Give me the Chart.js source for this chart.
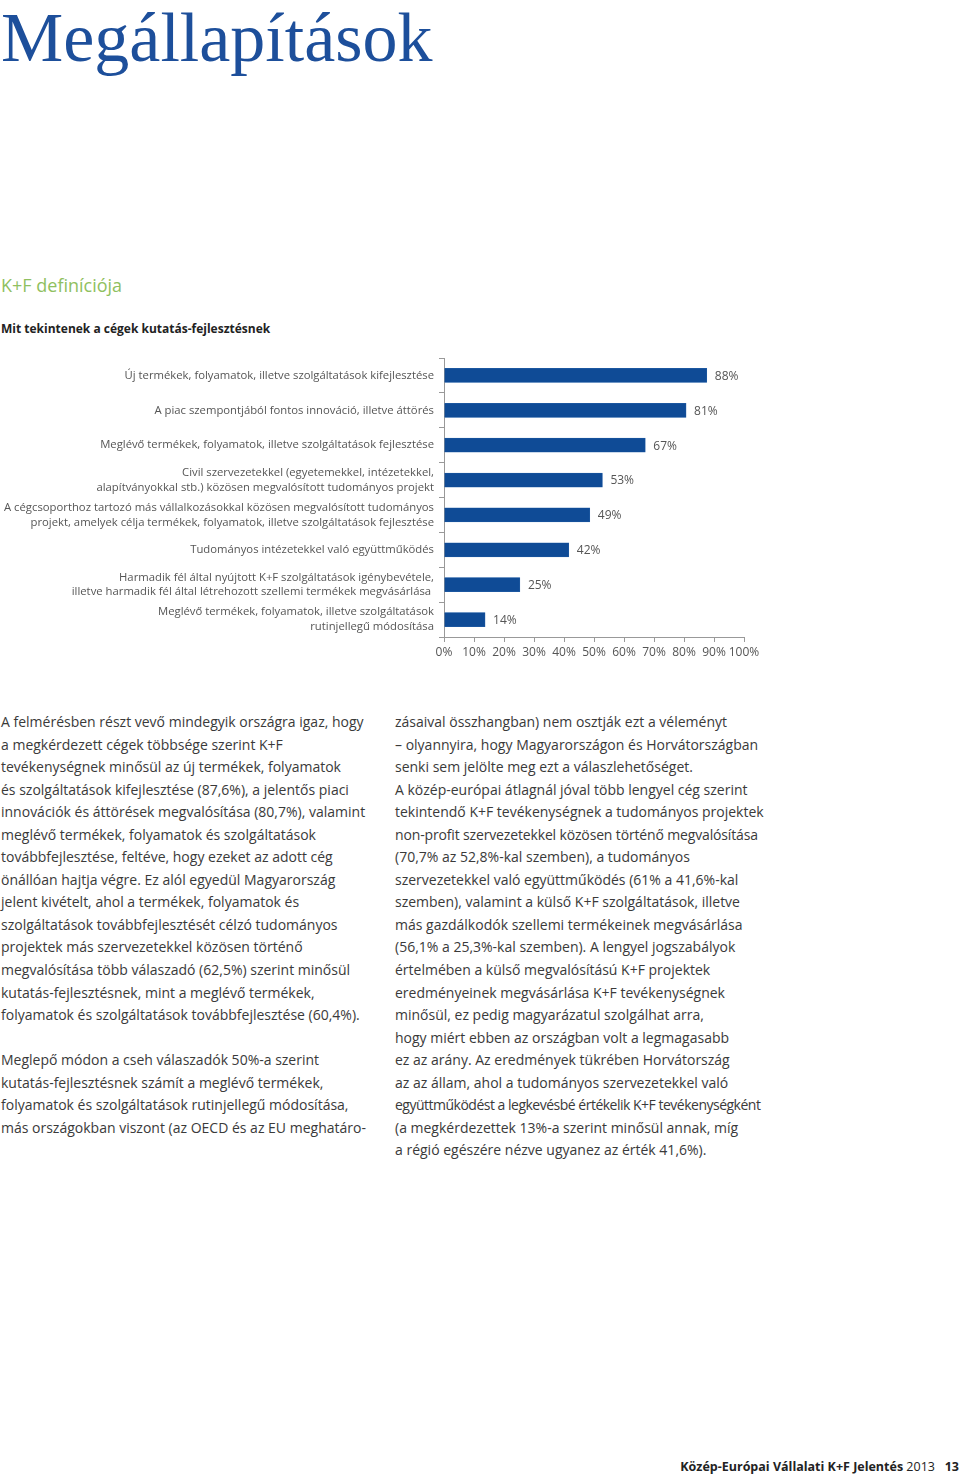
<!DOCTYPE html>
<html lang="hu">
<head>
<meta charset="utf-8">
<title>Megállapítások</title>
<script src="https://cdn.jsdelivr.net/npm/chart.js@4.4.1/dist/chart.umd.min.js"></script>
<style>
    html, body {
        margin: 0;
        padding: 0;
        background: #fff;
    }
    body {
        position: relative;
        width: 960px;
        height: 1476px;
        overflow: hidden;
        font-family: 'Open Sans', 'Noto Sans', sans-serif;
        color: #333;
    }
    .title {
        position: absolute;
        left: 1px;
        top: 0;
        font-family: 'Liberation Serif', 'DejaVu Serif', serif;
        font-size: 70px;
        line-height: 76px;
        color: #1d4f9b;
        white-space: nowrap;
    }
    .section {
        position: absolute;
        left: 1px;
        top: 273px;
        font-size: 18px;
        color: #8fc060;
    }
    .subtitle {
        position: absolute;
        left: 1px;
        top: 320px;
        font-size: 12px;
        font-weight: bold;
        color: #222;
    }
    .chart-box {
        position: absolute;
        left: 0;
        top: 350px;
        width: 790px;
        height: 320px;
    }
    .col {
        position: absolute;
        top: 711px;
        font-size: 14px;
        line-height: 22.55px;
        color: #3a3a3a;
        white-space: nowrap;
    }
    .tight {
        letter-spacing: -0.5px;
    }
    .footer {
        position: absolute;
        right: 1px;
        top: 1458px;
        font-size: 12.5px;
        color: #222;
        white-space: nowrap;
    }
</style>
</head>
<body>
<div class="title">Megállapítások</div>
<div class="section">K+F definíciója</div>
<div class="subtitle">Mit tekintenek a cégek kutatás-fejlesztésnek</div>

<div class="chart-box">
    <canvas id="kf-chart" width="790" height="320"></canvas>
</div>

<div class="col" style="left:1px">
    A felmérésben részt vevő mindegyik országra igaz, hogy<br>
    a megkérdezett cégek többsége szerint K+F<br>
    tevékenységnek minősül az új termékek, folyamatok<br>
    és szolgáltatások kifejlesztése (87,6%), a jelentős piaci<br>
    innovációk és áttörések megvalósítása (80,7%), valamint<br>
    meglévő termékek, folyamatok és szolgáltatások<br>
    továbbfejlesztése, feltéve, hogy ezeket az adott cég<br>
    önállóan hajtja végre. Ez alól egyedül Magyarország<br>
    jelent kivételt, ahol a termékek, folyamatok és<br>
    szolgáltatások továbbfejlesztését célzó tudományos<br>
    projektek más szervezetekkel közösen történő<br>
    megvalósítása több válaszadó (62,5%) szerint minősül<br>
    kutatás-fejlesztésnek, mint a meglévő termékek,<br>
    folyamatok és szolgáltatások továbbfejlesztése (60,4%).<br>
    <br>
    Meglepő módon a cseh válaszadók 50%-a szerint<br>
    kutatás-fejlesztésnek számít a meglévő termékek,<br>
    folyamatok és szolgáltatások rutinjellegű módosítása,<br>
    más országokban viszont (az OECD és az EU meghatáro-
</div>

<div class="col" style="left:395px">
    zásaival összhangban) nem osztják ezt a véleményt<br>
    – olyannyira, hogy Magyarországon és Horvátországban<br>
    senki sem jelölte meg ezt a válaszlehetőséget.<br>
    A közép-európai átlagnál jóval több lengyel cég szerint<br>
    tekintendő K+F tevékenységnek a tudományos projektek<br>
    <span class="tight" style="letter-spacing:-0.15px">non-profit szervezetekkel közösen történő megvalósítása</span><br>
    (70,7% az 52,8%-kal szemben), a tudományos<br>
    szervezetekkel való együttműködés (61% a 41,6%-kal<br>
    szemben), valamint a külső K+F szolgáltatások, illetve<br>
    más gazdálkodók szellemi termékeinek megvásárlása<br>
    (56,1% a 25,3%-kal szemben). A lengyel jogszabályok<br>
    értelmében a külső megvalósítású K+F projektek<br>
    eredményeinek megvásárlása K+F tevékenységnek<br>
    minősül, ez pedig magyarázatul szolgálhat arra,<br>
    hogy miért ebben az országban volt a legmagasabb<br>
    ez az arány. Az eredmények tükrében Horvátország<br>
    az az állam, ahol a tudományos szervezetekkel való<br>
    <span class="tight">együttműködést a legkevésbé értékelik K+F tevékenységként</span><br>
    (a megkérdezettek 13%-a szerint minősül annak, míg<br>
    a régió egészére nézve ugyanez az érték 41,6%).
</div>

<div class="footer"><b>Közép-Európai Vállalati K+F Jelentés</b> 2013 &nbsp;&nbsp;<b>13</b></div>

<script>
const categories = [
    ['Új termékek, folyamatok, illetve szolgáltatások kifejlesztése'],
    ['A piac szempontjából fontos innováció, illetve áttörés'],
    ['Meglévő termékek, folyamatok, illetve szolgáltatások fejlesztése'],
    ['Civil szervezetekkel (egyetemekkel, intézetekkel,', 'alapítványokkal stb.) közösen megvalósított tudományos projekt'],
    ['A cégcsoporthoz tartozó más vállalkozásokkal közösen megvalósított tudományos', 'projekt, amelyek célja termékek, folyamatok, illetve szolgáltatások fejlesztése'],
    ['Tudományos intézetekkel való együttműködés'],
    ['Harmadik fél által nyújtott K+F szolgáltatások igénybevétele,', 'illetve harmadik fél által létrehozott szellemi termékek megvásárlása '],
    ['Meglévő termékek, folyamatok, illetve szolgáltatások', 'rutinjellegű módosítása']
];

const values = [87.6, 80.7, 67.1, 52.8, 48.6, 41.6, 25.3, 13.7];
const valueLabels = ['88%', '81%', '67%', '53%', '49%', '42%', '25%', '14%'];
const xTickLabels = ['0%', '10%', '20%', '30%', '40%', '50%', '60%', '70%', '80%', '90%', '100%'];

const fontFamily = "'Open Sans', 'Noto Sans', sans-serif";

// drop the automatic edge padding chart.js adds for tick labels
const noEdgePadding = function (scale) {
    scale.paddingTop = 0;
    scale.paddingBottom = 0;
    scale.paddingLeft = 0;
    scale.paddingRight = 0;
}

new Chart(document.getElementById('kf-chart'), {
    type: 'bar',
    data: {
        labels: categories,
        datasets: [{
            data: values,
            backgroundColor: '#0f4b96',
            borderColor: '#2a64aa',
            borderWidth: 0.5,
            barThickness: 14
        }]
    },
    options: {
        indexAxis: 'y',
        responsive: false,
        animation: false,
        layout: {
            padding: { top: 8, right: 46, bottom: 0, left: 0 }
        },
        scales: {
            x: {
                min: 0,
                max: 100,
                ticks: {
                    stepSize: 10,
                    autoSkip: false,
                    color: '#555',
                    font: { family: fontFamily, size: 12 },
                    padding: 3,
                    maxRotation: 0,
                    callback: (v, i) => xTickLabels[i]
                },
                grid: {
                    drawOnChartArea: false,
                    tickLength: 5,
                    color: '#999'
                },
                border: { color: '#999' },
                afterFit: scale => {
                    noEdgePadding(scale);
                    scale.height = 33;
                }
            },
            y: {
                ticks: {
                    color: '#555',
                    font: { family: fontFamily, size: 11.3, lineHeight: 1.3 },
                    padding: 5,
                    autoSkip: false
                },
                grid: {
                    drawOnChartArea: false,
                    tickLength: 5,
                    color: '#999'
                },
                border: { color: '#999' },
                afterFit: scale => {
                    noEdgePadding(scale);
                    scale.width = 444;
                }
            }
        },
        plugins: {
            legend: { display: false },
            tooltip: { enabled: false }
        }
    },
    plugins: [{
        id: 'value-labels',
        afterDatasetsDraw: chart => {
            const ctx = chart.ctx;
            const meta = chart.getDatasetMeta(0);
            ctx.save();
            ctx.font = `12px ${fontFamily}`;
            ctx.fillStyle = '#555';
            ctx.textAlign = 'left';
            ctx.textBaseline = 'middle';
            meta.data.forEach((bar, i) => {
                ctx.fillText(valueLabels[i], bar.x + 8, bar.y + 1);
            });
            ctx.restore();
        }
    }]
});
</script>
</body>
</html>
